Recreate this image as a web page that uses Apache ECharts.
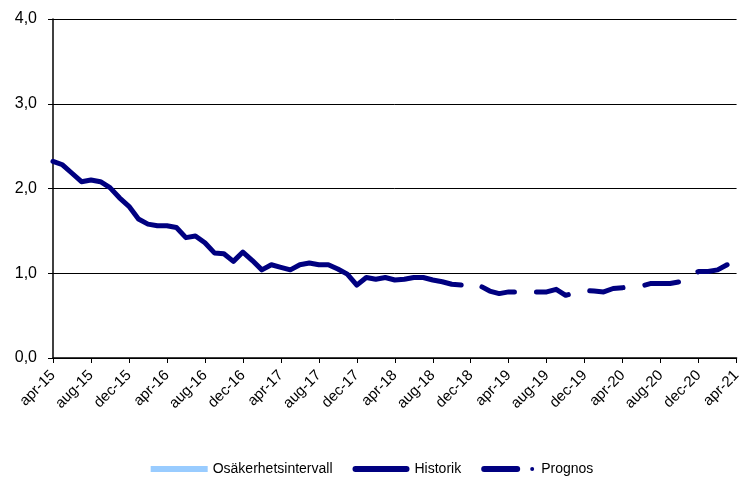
<!DOCTYPE html>
<html>
<head>
<meta charset="utf-8">
<script src="https://cdn.jsdelivr.net/npm/echarts@6/dist/echarts.min.js"></script>
<style>
  html, body { margin: 0; padding: 0; background: #fff; }
  #chart { width: 744px; height: 477px; }
</style>
</head>
<body>
<div id="chart"></div>
<script>
// månader apr-15 .. apr-21
const monthNames = ['jan', 'feb', 'mar', 'apr', 'maj', 'jun', 'jul', 'aug', 'sep', 'okt', 'nov', 'dec'];
const categories = [];
for (let y = 15; y <= 21; y++) {
    for (let m = 0; m < 12; m++) {
        if ((y === 15 && m < 3) || (y === 21 && m > 3)) continue;
        categories.push(monthNames[m] + '-' + y);
    }
}

// Historik apr-15 .. nov-18
const historik = [
    2.32, 2.28, 2.18, 2.08, 2.10, 2.08, 2.01, 1.89, 1.79, 1.64,
    1.58, 1.56, 1.56, 1.54, 1.42, 1.44, 1.36, 1.24, 1.23, 1.14,
    1.25, 1.15, 1.04, 1.10, 1.07, 1.04, 1.10, 1.12, 1.10, 1.10,
    1.05, 0.99, 0.86, 0.95, 0.93, 0.95, 0.92, 0.93, 0.95, 0.95,
    0.92, 0.90, 0.87, 0.86
];

// Prognos nov-18 .. mar-21
const prognosStart = 43;
const prognos = [
    0.86, 0.86, 0.85, 0.79, 0.76, 0.78, 0.78, 0.78, 0.78, 0.78,
    0.81, 0.74, 0.77, 0.80, 0.79, 0.78, 0.82, 0.83, 0.84, 0.85,
    0.88, 0.88, 0.88, 0.90, 0.97, 1.02, 1.02, 1.04, 1.10
];

const osakerhet = [];

const chartInstance = echarts.init(document.getElementById('chart'));

const prognosData = categories.map((c, i) => {
    const k = i - prognosStart;
    return k >= 0 && k < prognos.length ? prognos[k] : '-';
});

// legend-ikoner
const lineIcon = 'path://M3,0 L54,0 A3,3 0 0 1 54,6 L3,6 A3,3 0 0 1 3,0 Z';
const prognosIcon = 'path://M3,0 L36,0 A3,3 0 0 1 36,6 L3,6 A3,3 0 0 1 3,0 Z M51,1 A2,2 0 1 1 51,5 A2,2 0 1 1 51,1 Z';

const option = {
    animation: false,
    textStyle: { fontFamily: 'Liberation Sans, Arial, sans-serif' },
    grid: { left: 53, right: 2, top: 19, bottom: 119 },
    legend: {
        top: 457,
        left: 'center',
        itemWidth: 57,
        itemHeight: 6,
        itemGap: 20,
        textStyle: { fontSize: 14, color: '#000' },
        data: [
            { name: 'Osäkerhetsintervall', icon: 'rect', itemStyle: { color: '#99CCFF' } },
            { name: 'Historik', icon: lineIcon, itemStyle: { color: '#000080' } },
            { name: 'Prognos', icon: prognosIcon, itemStyle: { color: '#000080' } }
        ]
    },
    xAxis: {
        type: 'category',
        boundaryGap: false,
        data: categories,
        axisLine: { lineStyle: { color: '#000', width: 1.5 } },
        axisTick: { interval: 3, length: 5, lineStyle: { color: '#000' } },
        axisLabel: {
            interval: 3,
            rotate: 45,
            fontSize: 15,
            color: '#000',
            margin: 15
        },
        splitLine: { show: false }
    },
    yAxis: {
        type: 'value',
        min: 0,
        max: 4,
        interval: 1,
        axisLine: { show: true, lineStyle: { color: '#000', width: 1.5 } },
        axisTick: { show: true, length: 5, lineStyle: { color: '#000' } },
        axisLabel: {
            fontSize: 16,
            color: '#000',
            margin: 16,
            formatter: v => v.toFixed(1).replace('.', ',')
        },
        splitLine: { lineStyle: { color: '#000', width: 1 } }
    },
    series: [
        {
            name: 'Osäkerhetsintervall',
            type: 'line',
            data: osakerhet,
            symbol: 'none',
            itemStyle: { color: '#99CCFF' },
            lineStyle: { color: '#99CCFF', width: 6 }
        },
        {
            name: 'Historik',
            type: 'line',
            data: historik,
            symbol: 'none',
            itemStyle: { color: '#000080' },
            lineStyle: { color: '#000080', width: 5, cap: 'round', join: 'round' }
        },
        {
            name: 'Prognos',
            type: 'line',
            data: prognosData,
            symbol: 'none',
            itemStyle: { color: '#000080' },
            lineStyle: {
                color: '#000080',
                width: 5,
                type: [34, 22],
                dashOffset: 35,
                cap: 'round',
                join: 'round'
            }
        }
    ]
};

chartInstance.setOption(option);
</script>
</body>
</html>
